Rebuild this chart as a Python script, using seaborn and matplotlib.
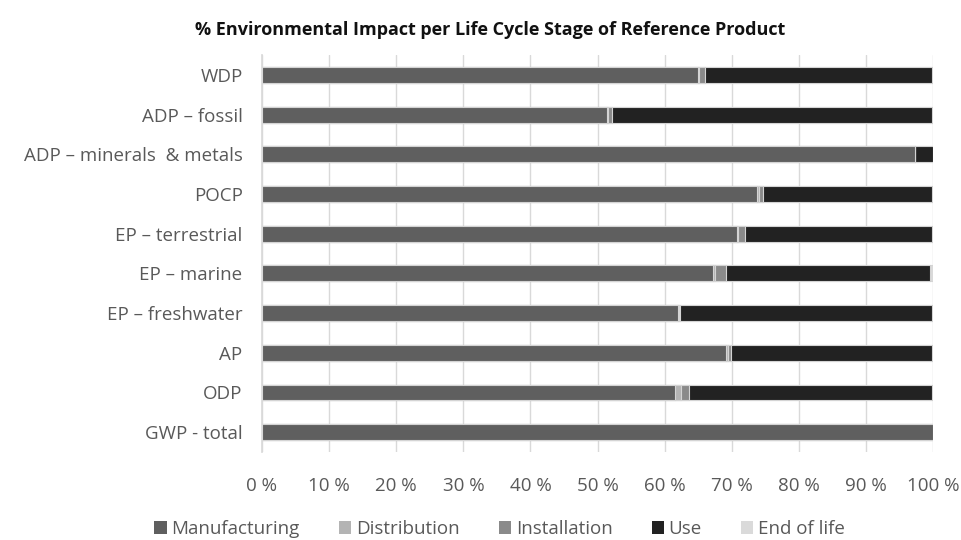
import matplotlib
matplotlib.use('Agg')

import matplotlib.pyplot as plt
import numpy as np
import pandas as pd
import seaborn as sns

from matplotlib.patches import Patch
from matplotlib.ticker import FuncFormatter


categories = ['WDP', 'ADP – fossil', 'ADP – minerals  & metals', 'POCP',
              'EP – terrestrial', 'EP – marine', 'EP – freshwater', 'AP',
              'ODP', 'GWP - total']
stages = ['Manufacturing', 'Distribution', 'Installation', 'Use', 'End of life']

manufacturing = [65.0, 51.4, 97.3, 73.8, 70.8, 67.2, 62.0, 69.2, 61.5, 100.0]
distribution = [0.1, 0.2, 0.0, 0.2, 0.2, 0.3, 0.1, 0.2, 0.9, 0.0]
installation = [0.9, 0.6, 0.0, 0.6, 0.9, 1.6, 0.2, 0.5, 1.2, 0.0]
use = [33.9, 47.7, 2.7, 25.3, 28.0, 30.5, 37.6, 30.0, 36.3, 0.0]
end_of_life = [0.1, 0.1, 0.0, 0.1, 0.1, 0.4, 0.1, 0.1, 0.1, 0.0]

stage_colors = ['#5f5f5f', '#b4b4b4', '#8a8a8a', '#222222', '#dadada']
text_color = '#595959'

sns.set_theme(style='white')
plt.rcParams['font.family'] = ['Open Sans', 'DejaVu Sans']

data = pd.DataFrame({
    'category': categories,
    'Manufacturing': manufacturing,
    'Distribution': distribution,
    'Installation': installation,
    'Use': use,
    'End of life': end_of_life,
})
cum = data[stages].cumsum(axis=1)

fig = plt.figure(figsize=(9.61, 5.40), dpi=100)
ax = fig.add_axes([0.2726, 0.163, 0.6984, 0.735])

# stacked bars: draw cumulative totals from the last stage back to the first
for stage, color in reversed(list(zip(stages, stage_colors))):
    sns.barplot(ax=ax, x=cum[stage], y=data['category'], orient='h',
                color=color, width=0.4, edgecolor='#d4d4d4', linewidth=0.8,
                saturation=1)

ax.set_xlim(0, 100)
ax.set_xticks(np.arange(0, 101, 10))
ax.xaxis.set_major_formatter(FuncFormatter(lambda v, _: f'{v:.0f} %'))
ax.grid(axis='x', color='#d9d9d9', linewidth=1)
ax.set_axisbelow(True)
ax.set_xlabel('')
ax.set_ylabel('')
for side in ['top', 'right', 'bottom']:
    ax.spines[side].set_visible(False)
ax.spines['left'].set_color('#d9d9d9')
ax.tick_params(axis='both', length=0, labelsize=13.5, colors=text_color)
ax.tick_params(axis='x', pad=18)
ax.tick_params(axis='y', pad=14)

fig.text(0.51, 0.944, '% Environmental Impact per Life Cycle Stage of Reference Product',
         ha='center', va='center', fontsize=13, fontweight='bold', color='#111111')

handles = [Patch(facecolor=c, edgecolor='none') for c in stage_colors]
fig.legend(handles, stages, loc='center', bbox_to_anchor=(0.52, 0.02), ncol=5,
           frameon=False, fontsize=13.5, labelcolor=text_color,
           handlelength=0.65, handleheight=0.65, handletextpad=0.25,
           columnspacing=2.1)

fig.savefig('out.png', dpi=100)
